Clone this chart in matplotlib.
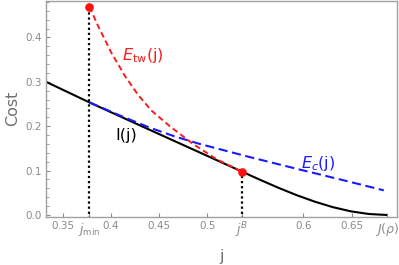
import matplotlib
matplotlib.use("Agg")
import matplotlib.pyplot as plt
from matplotlib.ticker import MultipleLocator

# ---- data ----
j_min = 0.3776
j_B = 0.5363
J_rho = 0.687

# I(j): rate function (black solid)
I_j = [0.3324, 0.3776, 0.44, 0.49, 0.5363, 0.555, 0.574, 0.5928, 0.6117, 0.6305, 0.6493, 0.6682, 0.687]
I_v = [0.300, 0.2535, 0.192, 0.143, 0.0975, 0.0792, 0.0613, 0.0448, 0.0301, 0.0177, 0.0082, 0.0022, 0.0]

# E_tw(j) (red dashed)
Etw_j = [0.3776, 0.3869, 0.4007, 0.4145, 0.4283, 0.4421, 0.4611, 0.4852, 0.5094, 0.5363]
Etw_v = [0.469, 0.424, 0.364, 0.313, 0.270, 0.235, 0.200, 0.160, 0.126, 0.0975]

# E_c(j) (blue dashed)
Ec_j = [0.3776, 0.4093, 0.4404, 0.4663, 0.4921, 0.5439, 0.5957, 0.6406, 0.6836]
Ec_v = [0.2535, 0.2240, 0.1966, 0.1769, 0.1601, 0.1306, 0.1026, 0.0788, 0.0555]

x_ticks = [0.35, j_min, 0.4, 0.45, 0.5, j_B, 0.6, 0.65, J_rho]
x_ticklabels = ["0.35", r"$j_{\rm min}$", "0.4", "0.45", "0.5", r"$j^{B}$", "0.6", "0.65", r"$J(\rho)$"]
y_ticks = [0.0, 0.1, 0.2, 0.3, 0.4]
y_ticklabels = ["0.0", "0.1", "0.2", "0.3", "0.4"]

gray = "#8a8a8a"

fig = plt.figure(figsize=(3.99, 2.65), dpi=100)
ax = fig.add_axes([46 / 399, 1 - 216.5 / 265, (397 - 46) / 399, 216 / 265])

ax.plot(I_j, I_v, color="black", lw=1.5, zorder=2, solid_capstyle="butt")
ax.plot(Ec_j, Ec_v, color="#1a1aff", lw=1.5, dashes=(4.4, 2.2), zorder=3)
ax.plot(Etw_j, Etw_v, color="#ff1a1a", lw=1.4, dashes=(3.0, 1.8), zorder=4)

# dotted vertical guides
ax.plot([j_min, j_min], [-0.01, Etw_v[0]], color="black", lw=1.6, dashes=(1.0, 1.3), zorder=3)
ax.plot([j_B, j_B], [-0.01, Etw_v[-1]], color="black", lw=1.6, dashes=(1.0, 1.3), zorder=3)

# end points
ax.plot([Etw_j[0], Etw_j[-1]], [Etw_v[0], Etw_v[-1]], "o", color="#ff1010", ms=5.2, zorder=5)

ax.set_xlim(0.3324, 0.6973)
ax.set_ylim(-0.0034, 0.4831)

ax.set_xticks(x_ticks)
ax.set_xticklabels(x_ticklabels)
ax.set_yticks(y_ticks)
ax.set_yticklabels(y_ticklabels)
ax.yaxis.set_minor_locator(MultipleLocator(0.02))

ax.tick_params(axis="both", which="major", direction="in", length=3.2, width=0.8,
               color=gray, labelcolor=gray, labelsize=7.5, pad=3)
ax.tick_params(axis="y", which="minor", direction="in", length=1.8, width=0.6, color=gray)
ax.tick_params(top=False, right=False)
for lbl in ax.get_xticklabels():
    if lbl.get_text().startswith("$"):
        lbl.set_fontsize(9)

for s in ax.spines.values():
    s.set_color("#a0a0a0")
    s.set_linewidth(1.0)

ax.set_xlabel("j", color="#707070", fontsize=11.5, labelpad=6)
ax.set_ylabel("Cost", color="#707070", fontsize=11.5, labelpad=4)

ax.text(0.4327, 0.360, r"$E_{\rm tw}$(j)", color="#ff1a1a", fontsize=11.5, ha="center", va="center")
ax.text(0.4155, 0.180, "I(j)", color="black", fontsize=11.5, ha="center", va="center")
ax.text(0.6149, 0.117, r"$E_c$(j)", color="#1a1aff", fontsize=11.5, ha="center", va="center")

fig.savefig("out.png", dpi=100)
